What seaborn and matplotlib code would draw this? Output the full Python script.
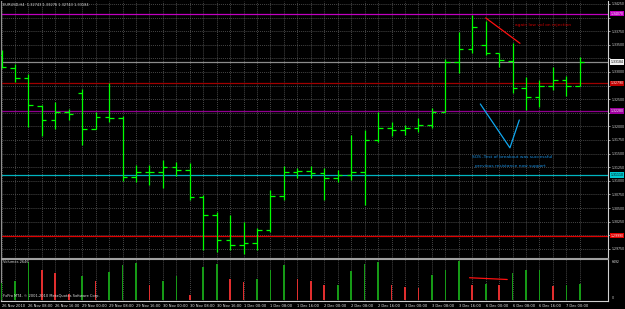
import numpy as np
import pandas as pd
import matplotlib
matplotlib.use("Agg")
import matplotlib.pyplot as plt
import matplotlib.transforms as mtransforms
import seaborn as sns

# ---------------- data ----------------
date_labels = ["26 Nov 2010", "26 Nov 08:00", "26 Nov 16:00", "29 Nov 00:00", "29 Nov 08:00",
               "29 Nov 16:00", "30 Nov 00:00", "30 Nov 08:00", "30 Nov 16:00", "1 Dec 00:00",
               "1 Dec 08:00", "1 Dec 16:00", "2 Dec 00:00", "2 Dec 08:00", "2 Dec 16:00",
               "3 Dec 00:00", "3 Dec 08:00", "3 Dec 16:00", "6 Dec 00:00", "6 Dec 08:00",
               "6 Dec 16:00", "7 Dec 00:00"]

open_ = [1.33313, 1.33074, 1.32890, 1.32375, 1.32118, 1.32265, 1.32614, 1.31952, 1.32173, 1.32154,
         1.31070, 1.31162, 1.31162, 1.31254, 1.31199, 1.30702, 1.30371, 1.29912, 1.29820, 1.29857,
         1.30096, 1.30721, 1.31162, 1.31180, 1.31143, 1.31051, 1.31107, 1.31162, 1.31750, 1.31971,
         1.31934, 1.31971, 1.32026, 1.32265, 1.33184, 1.33423, 1.33496, 1.33349, 1.33202, 1.32706,
         1.32540, 1.32743, 1.32853, 1.32743]
high = [1.33404, 1.33147, 1.32963, 1.32393, 1.32449, 1.32320, 1.32688, 1.32265, 1.32798, 1.32191,
        1.31290, 1.31290, 1.31382, 1.31346, 1.31327, 1.30739, 1.30427, 1.30371, 1.30243, 1.30132,
        1.30831, 1.31272, 1.31235, 1.31272, 1.31235, 1.31199, 1.31842, 1.31934, 1.32265, 1.32081,
        1.32026, 1.32154, 1.32338, 1.33239, 1.33735, 1.34048, 1.33938, 1.33349, 1.33533, 1.32908,
        1.32853, 1.33092, 1.32926, 1.33276]
low = [1.33074, 1.32816, 1.31989, 1.31824, 1.31952, 1.32118, 1.31658, 1.31952, 1.32081, 1.30996,
       1.30978, 1.30923, 1.30868, 1.31088, 1.30647, 1.29728, 1.29691, 1.29728, 1.29654, 1.29728,
       1.30059, 1.30647, 1.31051, 1.31051, 1.30647, 1.30978, 1.31015, 1.30555, 1.31713, 1.31824,
       1.31842, 1.31897, 1.31971, 1.32265, 1.32982, 1.33349, 1.33313, 1.33092, 1.32614, 1.32302,
       1.32357, 1.32669, 1.32559, 1.32743]
close = [1.33092, 1.32890, 1.32393, 1.32118, 1.32265, 1.32228, 1.31952, 1.32173, 1.32154, 1.31070,
         1.31162, 1.31162, 1.31254, 1.31199, 1.30702, 1.30371, 1.29912, 1.29820, 1.29857, 1.30096,
         1.30721, 1.31162, 1.31180, 1.31143, 1.31051, 1.31107, 1.31162, 1.31750, 1.31971, 1.31934,
         1.31971, 1.32026, 1.32265, 1.33184, 1.33423, 1.33827, 1.33349, 1.33221, 1.32706, 1.32540,
         1.32743, 1.32853, 1.32743, 1.33184]
volume = [2800, 3126, 6300, 4950, 4440, 1025, 3930, 3245, 4610, 5800,
          6100, 2440, 3126, 3980, 800, 5500, 6000, 3540, 2950, 3540,
          4950, 5900, 3500, 3245, 2440, 2560, 4830, 6000, 6300, 2560,
          2220, 2050, 4150, 4950, 6492, 2560, 2730, 2560, 4440, 5000,
          5050, 2400, 2440, 2646]

level_prices = [1.3407, 1.3279, 1.3228, 1.3111, 1.2999]
level_colors = ["#c000c0", "#c00000", "#a000a0", "#00c8d0", "#e00000"]
level_line_colors = ["#c000c0", "#a00000", "#900090", "#00b4c0", "#e00000"]
level_text_colors = ["white", "white", "white", "black", "white"]

price_ticks = [1.3425, 1.3400, 1.3375, 1.3350, 1.3325, 1.3300, 1.3275, 1.3250, 1.3225, 1.3200,
               1.3175, 1.3150, 1.3125, 1.3100, 1.3075, 1.3050, 1.3025, 1.3000, 1.2975]

sos_line_x = [35.6, 37.8, 38.5]
sos_line_y = [1.32412, 1.31606, 1.32118]
rej_line_x = [36.0, 38.55]
rej_line_y = [1.33994, 1.33527]
vol_line_x = [34.8, 37.6]
vol_line_y = [3707, 3417]

# ---------------- style ----------------
sns.set_style("dark", {"axes.facecolor": "black", "figure.facecolor": "black",
                       "axes.edgecolor": "#c8c8c8", "text.color": "white",
                       "xtick.color": "white", "ytick.color": "white",
                       "grid.color": "#6a6a6a"})
plt.rcParams["font.family"] = ["DejaVu Sans"]

W, H = 625, 309
fig = plt.figure(figsize=(W / 100, H / 100), dpi=100, facecolor="black")


def frac(x0, y0, x1, y1):
    return [x0 / W, 1 - y1 / H, (x1 - x0) / W, (y1 - y0) / H]


ax = fig.add_axes(frac(1, 1, 608, 258))
axv = fig.add_axes(frac(1, 259, 608, 301), sharex=ax)

n = len(close)
idx = np.arange(n)
xlim = ((1 - 1.5) / 13.45, (608 - 1.5) / 13.45)
FS = 2.6
FSY = 2.25
FSA = 3.2

# grid
grid_kw = dict(color="#6e6e6e", lw=0.5, linestyle=(0, (1.2, 1.6)), zorder=0)
for t in price_ticks:
    ax.axhline(t, **grid_kw)
for i in idx:
    ax.axvline(i, **grid_kw)
    axv.axvline(i, **grid_kw)

# horizontal levels
for p, c in zip(level_prices, level_line_colors):
    ax.axhline(p, color=c, lw=0.9, zorder=1)
ax.axhline(close[-1], color="#8c8c8c", lw=0.9, zorder=1)

# OHLC bars
bar_col = "#00ff00"
ax.vlines(idx, low, high, color=bar_col, lw=0.9, zorder=3)
ax.hlines(open_, idx - 0.34, idx, color=bar_col, lw=0.9, zorder=3)
ax.hlines(close, idx, idx + 0.34, color=bar_col, lw=0.9, zorder=3)

# annotations
ax.plot(sos_line_x, sos_line_y, color="#10a8f0", lw=0.9, zorder=4)
ax.plot(rej_line_x, rej_line_y, color="#ff1010", lw=0.9, zorder=4)
ax.text(35.0, 1.31443, "SOS ,Test of breakout was successful", color="#1a8fe0",
        fontsize=FSA, va="center", ha="left")
ax.text(35.2, 1.31266, "previous resistance now support", color="#1a8fe0",
        fontsize=FSA, va="center", ha="left")
ax.text(38.2, 1.33864, "again low vol on rejection", color="#c80000",
        fontsize=FSA, va="center", ha="left")
ax.text(0.004, 0.993, f"EURUSD,H4  {open_[-1]:.5f} {high[-1]:.5f} {low[-1]:.5f} {close[-1]:.5f}",
        transform=ax.transAxes, color="#d8d8d8", fontsize=FS, va="top", ha="left")

ax.set_xlim(*xlim)
ax.set_ylim(1.29581, 1.34305)
ax.yaxis.tick_right()
ax.set_yticks(price_ticks)
marked = level_prices + [close[-1]]
ax.set_yticklabels(["" if min(abs(t - m) for m in marked) < 0.0009 else f"{t:.5f}"
                    for t in price_ticks])
ax.tick_params(axis="y", labelsize=FSY, length=1.5, width=0.5, pad=1.0, colors="#e0e0e0")
ax.tick_params(axis="x", bottom=False, labelbottom=False)
ax.grid(False)
ax.spines["top"].set_visible(False)
ax.spines["left"].set_color("#909090")
ax.spines["bottom"].set_color("#a0a0a0")
ax.spines["right"].set_color("#d0d0d0")
for sp in ax.spines.values():
    sp.set_linewidth(0.8)

# colored price labels on the right axis
trans = mtransforms.blended_transform_factory(ax.transAxes, ax.transData)
for p, c, tc in zip(marked, level_colors + ["#f0f0f0"], level_text_colors + ["black"]):
    ax.text(1.004, p, f"{p:.5f}", transform=trans, fontsize=FSY, color=tc, va="center",
            ha="left", bbox=dict(facecolor=c, edgecolor="none", pad=0.5), zorder=6, clip_on=False)

# ---------------- volume panel ----------------
vol_df = pd.DataFrame({"bar": idx, "volume": volume,
                       "dir": ["up" if (i == 0 or volume[i] > volume[i - 1]) else "down" for i in idx]})
sns.barplot(data=vol_df, x="bar", y="volume", hue="dir", palette={"up": "#00b000", "down": "#ff1010"},
            native_scale=True, dodge=False, width=0.12, errorbar=None, legend=False,
            linewidth=0, ax=axv, zorder=3)
axv.plot(vol_line_x, vol_line_y, color="#ff1010", lw=0.9, zorder=4)
axv.set_xlim(*xlim)
axv.set_ylim(-171, 6834)
axv.set_ylabel("")
axv.set_xlabel("")
axv.set_yticks([])
axv.grid(False)
axv.text(0.004, 0.97, f"Volumes {volume[-1]}", transform=axv.transAxes, color="#d8d8d8",
         fontsize=FS, va="top", ha="left")
axv.text(0.004, 0.06, "FxPro MT4, \u00a9 2001-2010 MetaQuotes Software Corp.",
         transform=axv.transAxes, color="#e0e0e0", fontsize=FS, va="bottom", ha="left")
axv.text(1.006, 0.93, f"{max(volume)}", transform=axv.transAxes, color="#e0e0e0",
         fontsize=FSY, va="center", ha="left")
axv.text(1.006, 0.06, "0", transform=axv.transAxes, color="#e0e0e0",
         fontsize=FSY, va="center", ha="left")

tick_pos = idx[::2][:len(date_labels)]
axv.set_xticks(tick_pos)
axv.set_xticklabels(date_labels, ha="left")
axv.tick_params(axis="x", labelsize=FS, length=1.5, width=0.5, pad=1.0, colors="#e8e8e8")
for lab in axv.get_xticklabels():
    lab.set_horizontalalignment("left")
axv.spines["top"].set_color("#a0a0a0")
axv.spines["left"].set_color("#909090")
axv.spines["right"].set_color("#d0d0d0")
axv.spines["bottom"].set_color("#d0d0d0")
for sp in axv.spines.values():
    sp.set_linewidth(0.8)

fig.savefig("out.png", dpi=100, facecolor="black")
